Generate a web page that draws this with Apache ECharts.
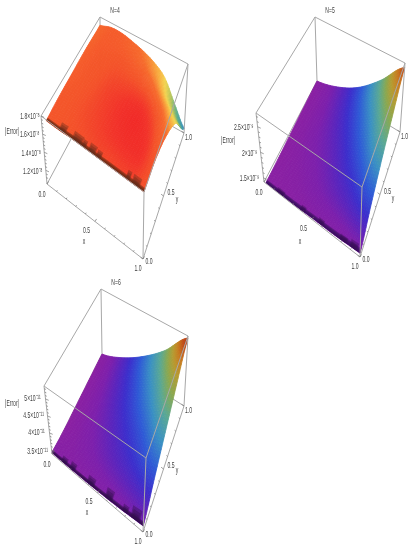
<!DOCTYPE html>
<html><head><meta charset="utf-8">
<style>html,body{margin:0;padding:0;background:#fff}#c{width:413px;height:550px;filter:blur(0.5px)}</style>
<script src="https://cdn.jsdelivr.net/npm/echarts@6/dist/echarts.min.js"></script>
</head><body><div id="c"></div>
<script>
// ---- values (|Error| in units of the axis exponent) ----
const titles = ['N=4', 'N=5', 'N=6'];
const xTickLabels = ['0.0', '0.5', '1.0'];
const yTickLabels = ['0.0', '0.5', '1.0'];
const zTicksN4 = [1.2, 1.4, 1.6, 1.8];
const zTicksN5 = [1.5, 2, 2.5];
const zTicksN6 = [3.5, 4, 4.5, 5];
const zLabelsN4 = ['1.2×10⁻⁸', '1.4×10⁻⁸', '1.6×10⁻⁸', '1.8×10⁻⁸'];
const zLabelsN5 = ['1.5×10⁻⁹', '2×10⁻⁹', '2.5×10⁻⁹'];
const zLabelsN6 = ['3.5×10⁻¹¹', '4×10⁻¹¹', '4.5×10⁻¹¹', '5×10⁻¹¹'];
const zRangeN4 = [1.05, 1.80];
const zRangeN5 = [1.42, 2.77];
const zRangeN6 = [3.38, 5.38];
// rows: y = 0 ... 1, columns: x evenly spaced 0 ... 1
const surfaceN4 = [
  [1.79,1.79,1.80,1.81,1.82,1.82,1.83,1.83,1.80],
  [1.78,1.79,1.81,1.83,1.85,1.87,1.88,1.87,1.79],
  [1.76,1.78,1.80,1.83,1.85,1.87,1.87,1.81,1.70],
  [1.74,1.77,1.78,1.79,1.78,1.76,1.71,1.62,1.50],
  [1.71,1.75,1.75,1.72,1.68,1.62,1.52,1.30,1.10]];
const surfaceN5 = [
  [1.43,1.43,1.45,1.46,1.49],
  [1.42,1.46,1.54,1.65,1.80],
  [1.42,1.50,1.62,1.83,2.10],
  [1.42,1.53,1.72,2.01,2.39],
  [1.42,1.56,1.81,2.20,2.68]];
const surfaceN6 = [
  [3.42,3.42,3.44,3.48,3.54],
  [3.38,3.48,3.62,3.78,3.96],
  [3.38,3.54,3.76,4.04,4.40],
  [3.38,3.60,3.92,4.34,4.86],
  [3.38,3.66,4.08,4.62,5.32]];
// dark patches along the y=0 edge: [x, width, reach]
const patchesN4 = [[.16,.07,.07],[.31,.10,.07],[.38,.04,.06],[.46,.07,.07],[.53,.05,.06],[.83,.04,.07],[.91,.08,.07]];
const patchesN5 = [[.15,.08,.04],[.39,.05,.04],[.58,.06,.04],[.82,.08,.035],[.93,.08,.045]];
const patchesN6 = [[.13,.06,.05],[.22,.06,.06],[.42,.08,.06],[.62,.08,.07],[.80,.06,.045],[.91,.10,.07]];

// ---- view of each panel: screen corners of the plot box, colours ----
const stopsCool=[[0,'#8a20a2'],[.07,'#7c20ac'],[.14,'#5c24bc'],[.22,'#3c2ecc'],[.33,'#2f5ad6'],[.45,'#3a90c4'],[.57,'#5aa894'],[.68,'#8aa850'],[.78,'#b89a30'],[.86,'#c87a20'],[.93,'#c04a18'],[1,'#a82c10']];
const panels = [
 {grid:{x:0,y:0,w:207,h:275}, title:[115,11], surf:surfaceN4, zr:zRangeN4, zt:zTicksN4, zl:zLabelsN4, patches:patchesN4, pad:.05,
  b:[[47,184],[143,259],[100,85],[184,133]], t:[[41,116],[144,192],[100,17],[188,64]],
  err:[12,132], xName:[84,242], yName:[177,200], zOff:[[-13,1],[-13,1],[-13,0],[-11,1]],
  band:'#6e2c14', bandH:.03, patchC:'#6a2c1c',
  stops:[[0,'#3a62c4'],[.12,'#3f98b4'],[.28,'#62b088'],[.45,'#b6c65c'],[.62,'#f4d452'],[.74,'#f8a83e'],[.86,'#f66a2c'],[1,'#f4522a'],[1.08,'#f2342a'],[1.14,'#f02626']]},
 {grid:{x:207,y:0,w:206,h:275}, title:[330,11], surf:surfaceN5, zr:zRangeN5, zt:zTicksN5, zl:zLabelsN5, patches:patchesN5, pad:.02,
  b:[[264,182],[360,257],[317,81],[400,132]], t:[[256,113],[362,187],[315,17],[405,63]],
  err:[228,141], xName:[300,242], yName:[393,199], zOff:[[-14,1],[-11,1],[-14,1]],
  band:'#3b1060', bandH:.03, patchC:'#3a1058', stops:stopsCool},
 {grid:{x:0,y:275,w:207,h:275}, title:[116,283], surf:surfaceN6, zr:zRangeN6, zt:zTicksN6, zl:zLabelsN6, patches:patchesN6, pad:0,
  b:[[52,454],[143,532],[102,354],[184,406]], t:[[44,386],[146,458],[101,289],[188,336]],
  err:[12,404], xName:[87,513], yName:[177,471], zOff:[[-14,2],[-13,0],[-14,0],[-13,0]],
  band:'#340e50', bandH:.025, patchC:'#32104e', stops:stopsCool}
];
const xLabOff = [[-5,11],[-8.5,9],[-5,9.5]];
const yLabOff = [[6,3],[7.5,-3],[4.5,5]];
const LINE = '#a8a8a8', TXT = '#3c3c3c', FONT = '"Liberation Sans"';

// ---- projection (box coordinates x, y in 0..1, f = height fraction) ----
const lerp = (a,b,t)=>a+(b-a)*t;
function proj(p,x,y,f){
  const bi=(c,k)=>lerp(lerp(c[0][k],c[1][k],x),lerp(c[2][k],c[3][k],x),y);
  return [lerp(bi(p.b,0),bi(p.t,0),f), lerp(bi(p.b,1),bi(p.t,1),f)];
}
const cr=(a,b,c,d,t)=>.5*(2*b+(c-a)*t+(2*a-5*b+4*c-d)*t*t+(3*b-a-3*c+d)*t*t*t);
function surfF(p,x,y){           // smooth reading of the table, as height fraction
  const s=p.surf, ny=s.length-1, nx=s[0].length-1;
  const gx=Math.min(x*nx,nx-1e-6), gy=Math.min(y*ny,ny-1e-6), i=Math.floor(gx), j=Math.floor(gy);
  const row=r=>{const R=s[Math.max(0,Math.min(ny,r))];
    const g=k=>R[Math.max(0,Math.min(nx,k))];
    return cr(g(i-1),g(i),g(i+1),g(i+2),gx-i);};
  const z=cr(row(j-1),row(j),row(j+1),row(j+2),gy-j);
  return (z-p.zr[0])/(p.zr[1]-p.zr[0]);
}
const hex=h=>[parseInt(h.slice(1,3),16),parseInt(h.slice(3,5),16),parseInt(h.slice(5,7),16)];
function color(p,f){
  const st=p.stops; if(f<=st[0][0])return st[0][1];
  for(let i=1;i<st.length;i++) if(f<=st[i][0]){
    const t=(f-st[i-1][0])/(st[i][0]-st[i-1][0]),a=hex(st[i-1][1]),b=hex(st[i][1]);
    return 'rgb('+a.map((v,k)=>Math.round(lerp(v,b[k],t))).join(',')+')';}
  return st[st.length-1][1];
}
// the surface is clipped at the top of the box
const surfPt=(p,x,y)=>{const d=p.pad*(1-y);return proj(p,d+(1-d)*x,y,Math.min(1,surfF(p,x,y)));};

// ---- series builders ----
function seriesFor(p,idx){
  const base={type:'custom',xAxisIndex:idx,yAxisIndex:idx,silent:true,animation:false,clip:false};
  const ny=p.surf.length-1,nx=p.surf[0].length-1;
  const cells=[];
  for(let j=ny-1;j>=0;j--)for(let i=0;i<nx;i++)cells.push([i,j,p.surf[j][i]]);
  const Sx=Math.ceil(56/nx),Sy=Math.ceil(56/ny);
  const surface=Object.assign({},base,{name:titles[idx]+' surface',z:3,data:cells,
    renderItem(_,api){
      const i=api.value(0),j=api.value(1),ch=[];
      for(let b=Sy-1;b>=0;b--)for(let a=0;a<Sx;a++){
        const x0=(i+a/Sx)/nx,x1=(i+(a+1)/Sx)/nx,y0=(j+b/Sy)/ny,y1=(j+(b+1)/Sy)/ny;
        const pts=[[x0,y0],[x1,y0],[x1,y1],[x0,y1]].map(q=>api.coord(surfPt(p,q[0],q[1])));
        const c=color(p,surfF(p,(x0+x1)/2,(y0+y1)/2));
        ch.push({type:'polygon',shape:{points:pts},style:{fill:c,stroke:c,lineWidth:.8}});
      }
      return {type:'group',children:ch};
    }});
  const seg=(api,a,b,style)=>{const A=api.coord(a),B=api.coord(b);
    return {type:'line',shape:{x1:A[0],y1:A[1],x2:B[0],y2:B[1]},style:Object.assign({stroke:LINE,lineWidth:1},style)};};
  const backEdges=[[[0,1,0],[1,1,0]],[[0,0,0],[0,1,0]],[[0,1,0],[0,1,1]]];
  const frontEdges=[[[0,0,0],[1,0,0]],[[1,0,0],[1,1,0]],[[0,0,0],[0,0,1]],[[1,0,0],[1,0,1]],[[1,1,0],[1,1,1]],
                    [[0,0,1],[1,0,1]],[[1,0,1],[1,1,1]],[[1,1,1],[0,1,1]],[[0,1,1],[0,0,1]]];
  const edgeSeries=(edges,z,name)=>Object.assign({},base,{name,z,data:edges.map((e,k)=>[k]),
    renderItem(_,api){const e=edges[api.value(0)];
      return seg(api,proj(p,e[0][0],e[0][1],e[0][2]),proj(p,e[1][0],e[1][1],e[1][2]));}});
  // dark rim & patches on the y=0 edge
  const patches=Object.assign({},base,{name:titles[idx]+' patches',z:4,data:[[-1,1,p.bandH]].concat(p.patches),
    renderItem(_,api){
      const cx=api.value(0),w=api.value(1),h=api.value(2),ch=[];
      const x0=cx<0?0:Math.max(0,cx-w/2),x1=cx<0?1:Math.min(1,cx+w/2),L=4;
      for(let l=0;l<L;l++){
        const t=(L-l)/L, top=h*t, shrink=cx<0?0:(w/2)*(1-t)*.5, pts=[];
        const n=8;
        for(let k=0;k<=n;k++){const x=lerp(x0+shrink,x1-shrink,k/n);pts.push(surfPt(p,x,.001));}
        for(let k=n;k>=0;k--){const x=lerp(x0+shrink*2,x1-shrink*2,k/n);pts.push(surfPt(p,x,top));}
        ch.push({type:'polygon',shape:{points:pts.map(q=>api.coord(q))},
          style:{fill:cx<0?p.band:p.patchC,opacity:cx<0?.55:.4}});
      }
      return {type:'group',children:ch};
    }});
  // minor/major ticks on the three axes (kind: 0 x, 1 y, 2 z)
  const tickData=[];
  for(let k=0;k<=10;k++){tickData.push([0,k/10,k%5==0?3:1.5]);tickData.push([1,k/10,k%5==0?3:1.5]);}
  const step=(p.zt[1]-p.zt[0])/5;
  for(let k=-2;k<40;k++){const v=p.zt[0]+k*step;
    if(v>=p.zr[0]&&v<=p.zr[1])tickData.push([2,(v-p.zr[0])/(p.zr[1]-p.zr[0]),k%5==0?3.5:1.8]);}
  const ticks=Object.assign({},base,{name:titles[idx]+' ticks',z:5,data:tickData,
    renderItem(_,api){
      const kind=api.value(0),v=api.value(1),len=api.value(2);
      let a,d;
      if(kind===0){a=proj(p,v,0,0);d=[.52,-.85];}
      else if(kind===1){a=proj(p,1,v,0);d=[-.8,-.6];}
      else {a=proj(p,0,0,v);d=[.9,.4];}
      return seg(api,a,[a[0]+d[0]*len,a[1]+d[1]*len],{lineWidth:.7,stroke:'#777'});
    }});
  // text
  const labelItems=[];
  xTickLabels.forEach((s,k)=>{const a=proj(p,k/2,0,0);labelItems.push([s,a[0]+xLabOff[k][0],a[1]+xLabOff[k][1]]);});
  yTickLabels.forEach((s,k)=>{const a=proj(p,1,k/2,0);labelItems.push([s,a[0]+yLabOff[k][0],a[1]+yLabOff[k][1]]);});
  p.zl.forEach((s,k)=>{const a=proj(p,0,0,(p.zt[k]-p.zr[0])/(p.zr[1]-p.zr[0]));
    labelItems.push([s,a[0]+p.zOff[k][0],a[1]+p.zOff[k][1]]);});
  labelItems.push(['x',p.xName[0],p.xName[1]],['y',p.yName[0],p.yName[1]],['|Error|',p.err[0],p.err[1]],[titles[idx],p.title[0],p.title[1]]);
  const labels=Object.assign({},base,{name:titles[idx]+' labels',z:6,data:labelItems.map((l,k)=>[k]),
    renderItem(_,api){
      const l=labelItems[api.value(0)];
      const c=api.coord([l[1],l[2]]);
      return {type:'text',x:c[0],y:c[1],scaleX:.56,scaleY:1,
        style:{text:l[0],fill:TXT,fontFamily:FONT,fontSize:9,align:'center',verticalAlign:'middle'}};
    }});
  return [edgeSeries(backEdges,1,titles[idx]+' box back'),surface,patches,edgeSeries(frontEdges,5,titles[idx]+' box front'),ticks,labels];
}
const chart=echarts.init(document.getElementById('c'),null,{renderer:'canvas'});
chart.setOption({
  animation:false,backgroundColor:'#fff',
  grid:panels.map(p=>({left:p.grid.x,top:p.grid.y,width:p.grid.w,height:p.grid.h})),
  xAxis:panels.map((p,i)=>({type:'value',gridIndex:i,min:p.grid.x,max:p.grid.x+p.grid.w,show:false})),
  yAxis:panels.map((p,i)=>({type:'value',gridIndex:i,inverse:true,min:p.grid.y,max:p.grid.y+p.grid.h,show:false})),
  series:panels.flatMap((p,i)=>seriesFor(p,i))
});
</script></body></html>
